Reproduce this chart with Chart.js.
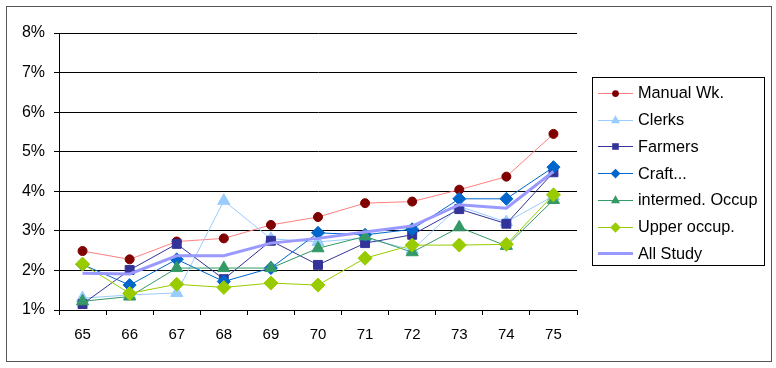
<!DOCTYPE html>
<html lang="en">
<head>
  <meta charset="UTF-8">
  <title>Rates by occupation, 65-75</title>
  <script src="https://cdn.jsdelivr.net/npm/chart.js"></script>
  <style>
    body {
      margin: 0;
      background: #fff;
    }
    #chart {
      display: block;
    }
  </style>
</head>
<body>
  <canvas id="chart" width="776" height="368"></canvas>

  <script>
  // years on the x axis
  const years = ["65", "66", "67", "68", "69", "70", "71", "72", "73", "74", "75"];

  // values in percent
  const manualWk = [2.49, 2.28, 2.73, 2.81, 3.15, 3.35, 3.70, 3.74, 4.04, 4.37, 5.45];
  const clerks   = [1.30, 1.38, 1.43, 3.76, 2.80, 2.72, 2.82, 2.52, 3.62, 3.22, 3.88];
  const farmers  = [1.15, 2.01, 2.67, 1.78, 2.75, 2.14, 2.69, 2.90, 3.55, 3.18, 4.48];
  const craft    = [2.15, 1.63, 2.28, 1.72, 2.06, 2.95, 2.90, 3.04, 3.81, 3.81, 4.61];
  const intermed = [1.22, 1.34, 2.06, 2.06, 2.06, 2.56, 2.86, 2.46, 3.09, 2.62, 3.78];
  const upperOcc = [2.16, 1.42, 1.65, 1.57, 1.68, 1.63, 2.31, 2.64, 2.64, 2.66, 3.91];
  const allStudy = [1.93, 1.91, 2.37, 2.37, 2.69, 2.81, 2.97, 3.12, 3.66, 3.57, 4.50];

  const yTicks = [1, 2, 3, 4, 5, 6, 7, 8];

  const FONT = "'Liberation Sans', Arial, sans-serif";

  function series(label, data, line, marker, style, radius, width, order) {
    return {
      label: label,
      data: data,
      borderColor: line,
      backgroundColor: marker,
      pointBackgroundColor: marker,
      pointBorderColor: marker,
      pointStyle: style,
      pointRadius: radius,
      pointBorderWidth: 1,
      borderWidth: width,
      tension: 0,
      order: order
    };
  }

  const datasets = [
    series("Manual Wk.", manualWk, "#ff8080", "#800000", "circle", 4.5, 1, 6),
    series("Clerks", clerks, "#99ccff", "#99ccff", "triangle", 7, 1, 5),
    series("Farmers", farmers, "#333399", "#333399", "rect", 6.3, 1, 4),
    series("Craft...", craft, "#0066cc", "#0066cc", "rectRot", 6.5, 1, 3),
    series("intermed. Occup", intermed, "#339966", "#339966", "triangle", 7, 1, 2),
    series("Upper occup.", upperOcc, "#99cc00", "#99cc00", "rectRot", 7, 1, 1),
    series("All Study", allStudy, "#9999ff", "#9999ff", false, 0, 3, 0)
  ];

  // little marker painter for the legend box
  function marker(ctx, style, x, y, r, color) {
    ctx.fillStyle = color;
    ctx.beginPath();
    if (style === "circle") {
      ctx.arc(x, y, r, 0, Math.PI * 2);
    } else if (style === "triangle") {
      ctx.moveTo(x, y - r);
      ctx.lineTo(x + r * 0.87, y + r * 0.5);
      ctx.lineTo(x - r * 0.87, y + r * 0.5);
      ctx.closePath();
    } else if (style === "rect") {
      ctx.rect(x - r * 0.7, y - r * 0.7, r * 1.4, r * 1.4);
    } else if (style === "rectRot") {
      ctx.moveTo(x, y - r);
      ctx.lineTo(x + r, y);
      ctx.lineTo(x, y + r);
      ctx.lineTo(x - r, y);
      ctx.closePath();
    } else {
      return;
    }
    ctx.fill();
  }

  const frame = {
    id: "frame",
    beforeDraw(chart) {
      const ctx = chart.ctx;
      ctx.save();
      ctx.fillStyle = "#fff";
      ctx.fillRect(0, 0, chart.width, chart.height);
      ctx.strokeStyle = "#555";
      ctx.lineWidth = 1;
      ctx.strokeRect(6.5, 6.5, 765, 355);
      ctx.restore();
    },
    afterDraw(chart) {
      const ctx = chart.ctx;
      ctx.save();
      ctx.fillStyle = "#fff";
      ctx.fillRect(592, 77, 172, 188);
      ctx.strokeStyle = "#000";
      ctx.lineWidth = 1;
      ctx.strokeRect(592.5, 77.5, 172, 188);
      ctx.font = "16.3px " + FONT;
      ctx.textBaseline = "middle";
      chart.data.datasets.forEach((ds, i) => {
        const y = 93 + i * 26.7;
        ctx.strokeStyle = ds.borderColor;
        ctx.lineWidth = ds.borderWidth;
        ctx.beginPath();
        ctx.moveTo(598, Math.round(y) + 0.5);
        ctx.lineTo(633, Math.round(y) + 0.5);
        ctx.stroke();
        marker(ctx, ds.pointStyle, 615.5, Math.round(y) + 0.5, ds.pointRadius * 0.75, ds.pointBackgroundColor);
        ctx.fillStyle = "#000";
        ctx.fillText(ds.label, 638, y + 1);
      });
      ctx.restore();
    }
  };

  new Chart(document.getElementById("chart"), {
    type: "line",
    data: { labels: years, datasets: datasets },
    plugins: [frame],
    options: {
      responsive: false,
      animation: false,
      devicePixelRatio: 1,
      layout: { padding: { left: 0, right: 199, top: 33, bottom: 0 } },
      plugins: {
        legend: { display: false },
        tooltip: { enabled: false }
      },
      scales: {
        x: {
          offset: true,
          grid: {
            offset: true,
            drawOnChartArea: false,
            drawTicks: true,
            tickLength: 5,
            color: "#000"
          },
          border: { color: "#000", width: 1 },
          ticks: {
            color: "#000",
            padding: 11,
            maxRotation: 0,
            font: { family: FONT, size: 15 }
          },
          afterFit(scale) { scale.height = 58; }
        },
        y: {
          min: yTicks[0],
          max: yTicks[yTicks.length - 1],
          afterBuildTicks(scale) { scale.ticks = yTicks.map(v => ({ value: v })); },
          grid: {
            color: "#000",
            lineWidth: 1,
            tickLength: 5
          },
          border: { color: "#000", width: 1 },
          ticks: {
            color: "#000",
            padding: 9,
            font: { family: FONT, size: 16 },
            callback: v => v + "%"
          },
          afterFit(scale) { scale.width = 59; }
        }
      }
    }
  });
  </script>
</body>
</html>
